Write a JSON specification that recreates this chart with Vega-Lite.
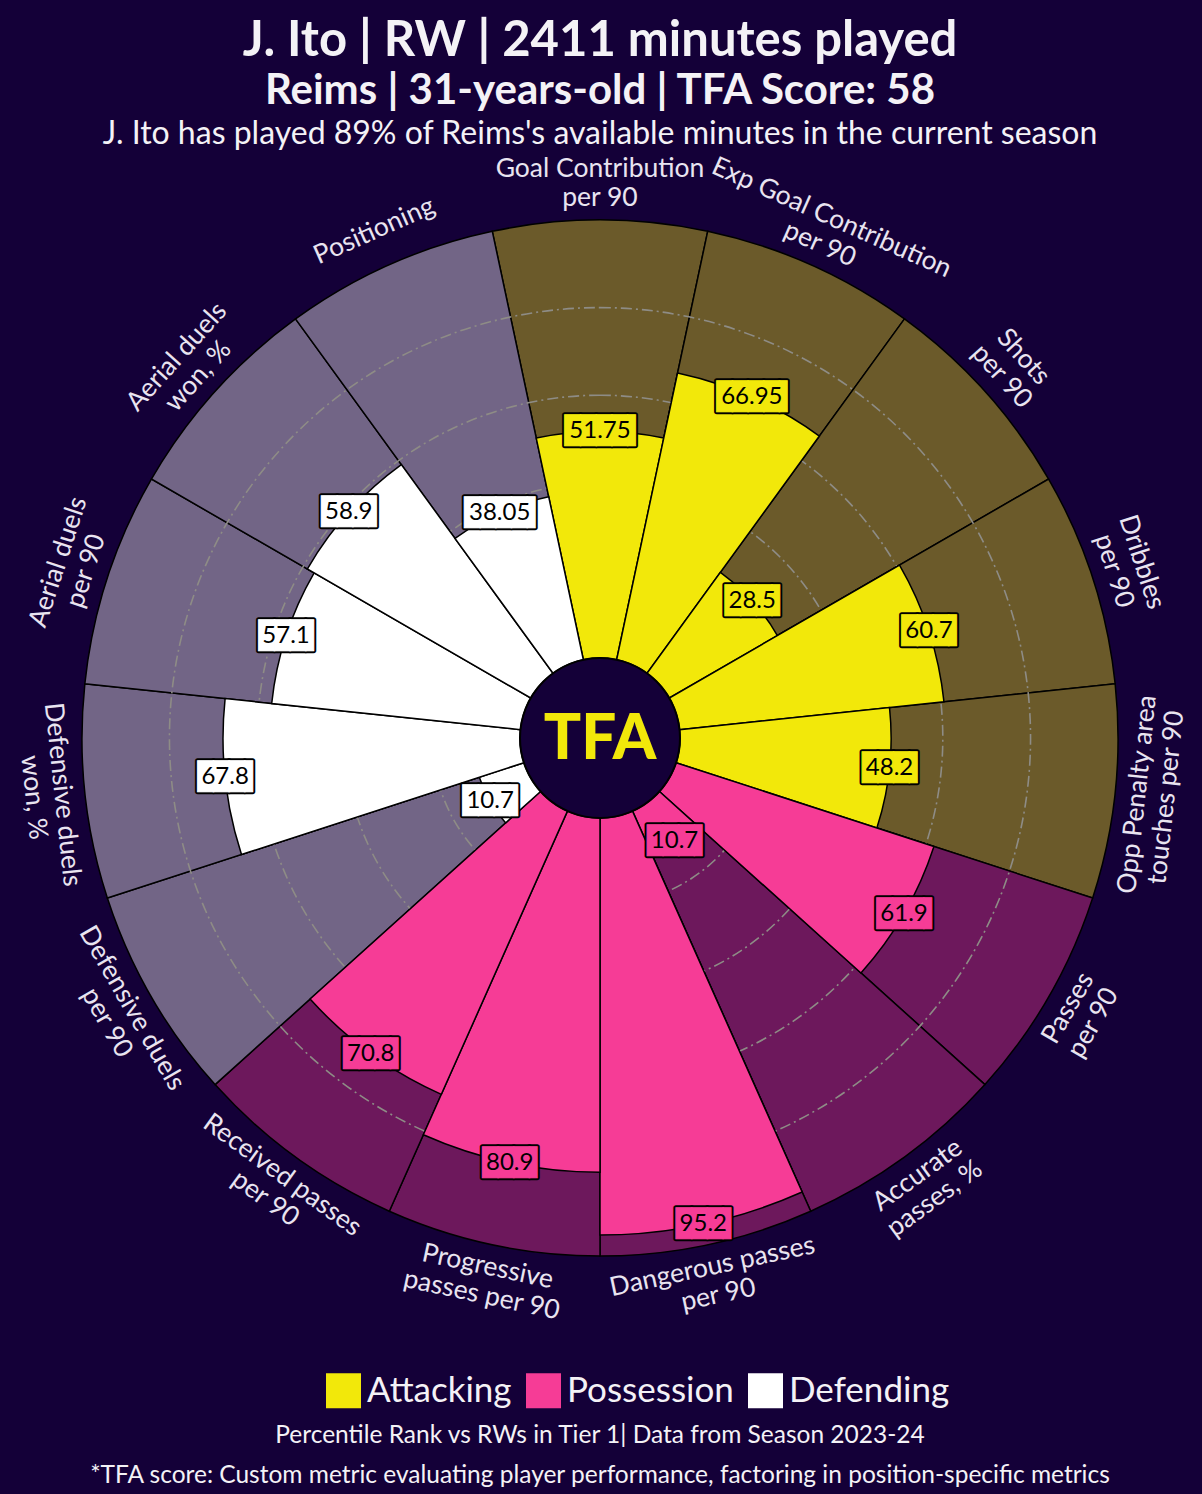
{
  "$schema": "https://vega.github.io/schema/vega-lite/v6.json",
  "background": "#140038",
  "padding": {"left": 1, "right": 3, "top": 17, "bottom": 0},
  "config": {
    "view": {"stroke": null},
    "font": "Lato",
    "title": {"font": "Lato", "color": "#f4f2f6", "anchor": "middle"},
    "legend": {"layout": {"bottom": {"anchor": "middle"}}}
  },
  "title": {
    "text": "J. Ito | RW | 2411 minutes played",
    "subtitle": "Reims | 31-years-old | TFA Score: 58",
    "fontSize": 49,
    "fontWeight": "bold",
    "subtitleFontSize": 42,
    "subtitleFontWeight": "bold",
    "subtitleColor": "#f4f2f6",
    "subtitleFont": "Lato",
    "subtitlePadding": 5,
    "offset": 6
  },
  "spacing": 7,
  "resolve": {"scale": {"color": "independent"}, "legend": {"color": "independent"}},
  "vconcat": [
    {
      "title": {
        "text": "J. Ito has played 89% of Reims's available minutes in the current season",
        "fontSize": 32,
        "fontWeight": "normal",
        "offset": 2
      },
      "width": 1198,
      "height": 1164,
      "data": {
        "values": [
          {"idx": 0, "metric": "Goal Contribution\nper 90", "category": "Attacking", "value": 51.75},
          {"idx": 1, "metric": "Exp Goal Contribution\nper 90", "category": "Attacking", "value": 66.95},
          {"idx": 2, "metric": "Shots\nper 90", "category": "Attacking", "value": 28.5},
          {"idx": 3, "metric": "Dribbles\nper 90", "category": "Attacking", "value": 60.7},
          {"idx": 4, "metric": "Opp Penalty area\ntouches per 90", "category": "Attacking", "value": 48.2},
          {"idx": 5, "metric": "Passes\nper 90", "category": "Possession", "value": 61.9},
          {"idx": 6, "metric": "Accurate\npasses, %", "category": "Possession", "value": 10.7},
          {"idx": 7, "metric": "Dangerous passes\nper 90", "category": "Possession", "value": 95.2},
          {"idx": 8, "metric": "Progressive\npasses per 90", "category": "Possession", "value": 80.9},
          {"idx": 9, "metric": "Received passes\nper 90", "category": "Possession", "value": 70.8},
          {"idx": 10, "metric": "Defensive duels\nper 90", "category": "Defending", "value": 10.7},
          {"idx": 11, "metric": "Defensive duels\nwon, %", "category": "Defending", "value": 67.8},
          {"idx": 12, "metric": "Aerial duels\nper 90", "category": "Defending", "value": 57.1},
          {"idx": 13, "metric": "Aerial duels\nwon, %", "category": "Defending", "value": 58.9},
          {"idx": 14, "metric": "Positioning", "category": "Defending", "value": 38.05}
        ]
      },
      "layer": [
        {
          "mark": {"type": "arc", "outerRadius": 518, "innerRadius": 80, "stroke": "#000000", "strokeWidth": 1.5, "thetaOffset": -0.20944, "theta2Offset": 0.20944},
          "encoding": {
            "theta": {"field": "idx", "type": "quantitative", "stack": null, "scale": {"domain": [0, 15], "range": [0, 6.283185]}},
            "theta2": {"field": "idx"},
            "fill": {"field": "category", "type": "nominal", "legend": null, "scale": {"range": ["#6b5a2a", "#726586", "#6d185c"]}}
          }
        },
        {
          "data": {"values": [{"g": 20}, {"g": 40}, {"g": 60}, {"g": 80}]},
          "mark": {"type": "arc", "filled": false, "theta": 0, "theta2": 6.2832, "stroke": "#8e8c86", "strokeWidth": 1.6, "strokeDash": [11, 4, 2, 4]},
          "encoding": {
            "radius": {"field": "g", "type": "quantitative", "stack": null, "scale": {"type": "linear", "domain": [0, 100], "range": [80, 518], "zero": false}}
          }
        },
        {
          "mark": {"type": "arc", "innerRadius": 80, "stroke": "#000000", "strokeWidth": 1.5, "thetaOffset": -0.20944, "theta2Offset": 0.20944},
          "encoding": {
            "theta": {"field": "idx", "type": "quantitative", "stack": null},
            "theta2": {"field": "idx"},
            "radius": {"field": "value", "type": "quantitative", "stack": null},
            "color": {
              "field": "category",
              "type": "nominal",
              "scale": {"domain": ["Attacking", "Possession", "Defending"], "range": ["#f2e80a", "#f63c96", "#ffffff"]},
              "legend": {
                "orient": "bottom",
                "direction": "horizontal",
                "title": " ",
                "titleOrient": "left",
                "titlePadding": 76,
                "symbolType": "square",
                "symbolSize": 1225,
                "symbolStrokeWidth": 0,
                "symbolOpacity": 1,
                "labelFontSize": 35,
                "labelColor": "#f4f2f6",
                "labelFont": "Lato",
                "labelOffset": 6,
                "columnPadding": 14,
                "offset": 53,
                "labelLimit": 300
              }
            }
          }
        },
        {
          "mark": {"type": "text", "font": "DejaVu Sans Mono", "fontSize": 26, "baseline": "middle", "align": "center", "dx": 4, "fill": "#000000", "stroke": "#000000", "strokeWidth": 5, "strokeJoin": "round"},
          "encoding": {
            "theta": {"field": "idx", "type": "quantitative", "stack": null},
            "radius": {"field": "value", "type": "quantitative", "stack": null},
            "text": {"condition": {"test": "length(toString(datum.value)) > 4", "value": "████▌"}, "value": "███▌"}
          }
        },
        {
          "mark": {"type": "text", "font": "DejaVu Sans Mono", "fontSize": 26, "baseline": "middle", "align": "center", "dx": 4, "strokeWidth": 1},
          "encoding": {
            "theta": {"field": "idx", "type": "quantitative", "stack": null},
            "radius": {"field": "value", "type": "quantitative", "stack": null},
            "color": {"field": "category", "type": "nominal"},
            "stroke": {"field": "category", "type": "nominal", "legend": null, "scale": {"range": ["#f2e80a", "#ffffff", "#f63c96"]}},
            "text": {"condition": {"test": "length(toString(datum.value)) > 4", "value": "████▌"}, "value": "███▌"}
          }
        },
        {
          "mark": {"type": "text", "fontSize": 24, "color": "#000000", "baseline": "middle", "align": "center", "font": "Lato"},
          "encoding": {
            "theta": {"field": "idx", "type": "quantitative", "stack": null},
            "radius": {"field": "value", "type": "quantitative", "stack": null},
            "text": {"field": "value", "type": "quantitative", "format": ""}
          }
        },
        {
          "mark": {"type": "text", "radius": 555, "fontSize": 26.5, "color": "#e9e4f0", "baseline": "middle", "align": "center", "lineBreak": "\n", "lineHeight": 29, "font": "Lato", "dy": {"expr": "length(datum.metric) > 11 ? -14.5 : 0"}},
          "encoding": {
            "theta": {"field": "idx", "type": "quantitative", "stack": null},
            "text": {"field": "metric", "type": "nominal"},
            "angle": {"field": "idx", "type": "quantitative", "legend": null, "scale": {"domain": [0, 3.75, 3.76, 11.25, 11.26, 15], "range": [0, 90, -89.76, 90, -89.76, 0]}}
          }
        },
        {
          "data": {"values": [{"logo": "TFA"}]},
          "mark": {"type": "arc", "theta": 0, "theta2": 6.2832, "outerRadius": 80, "fill": "#140038", "stroke": "#000000", "strokeWidth": 2},
          "encoding": {}
        },
        {
          "data": {"values": [{"logo": "TFA"}]},
          "mark": {"type": "text", "fontSize": 62, "fontWeight": 900, "color": "#f2e80a", "baseline": "middle", "align": "center", "font": "Lato", "dy": 2},
          "encoding": {"text": {"field": "logo", "type": "nominal"}}
        }
      ]
    },
    {
      "width": 1198,
      "height": 80,
      "data": {
        "values": [
          {"line": "Percentile Rank vs RWs in Tier 1| Data from Season 2023-24"},
          {"line": "*TFA score: Custom metric evaluating player performance, factoring in position-specific metrics"}
        ]
      },
      "mark": {"type": "text", "fontSize": 24.5, "color": "#f4f2f6", "font": "Lato"},
      "encoding": {
        "y": {"field": "line", "type": "nominal", "axis": null, "sort": null},
        "text": {"field": "line", "type": "nominal"}
      }
    }
  ]
}
